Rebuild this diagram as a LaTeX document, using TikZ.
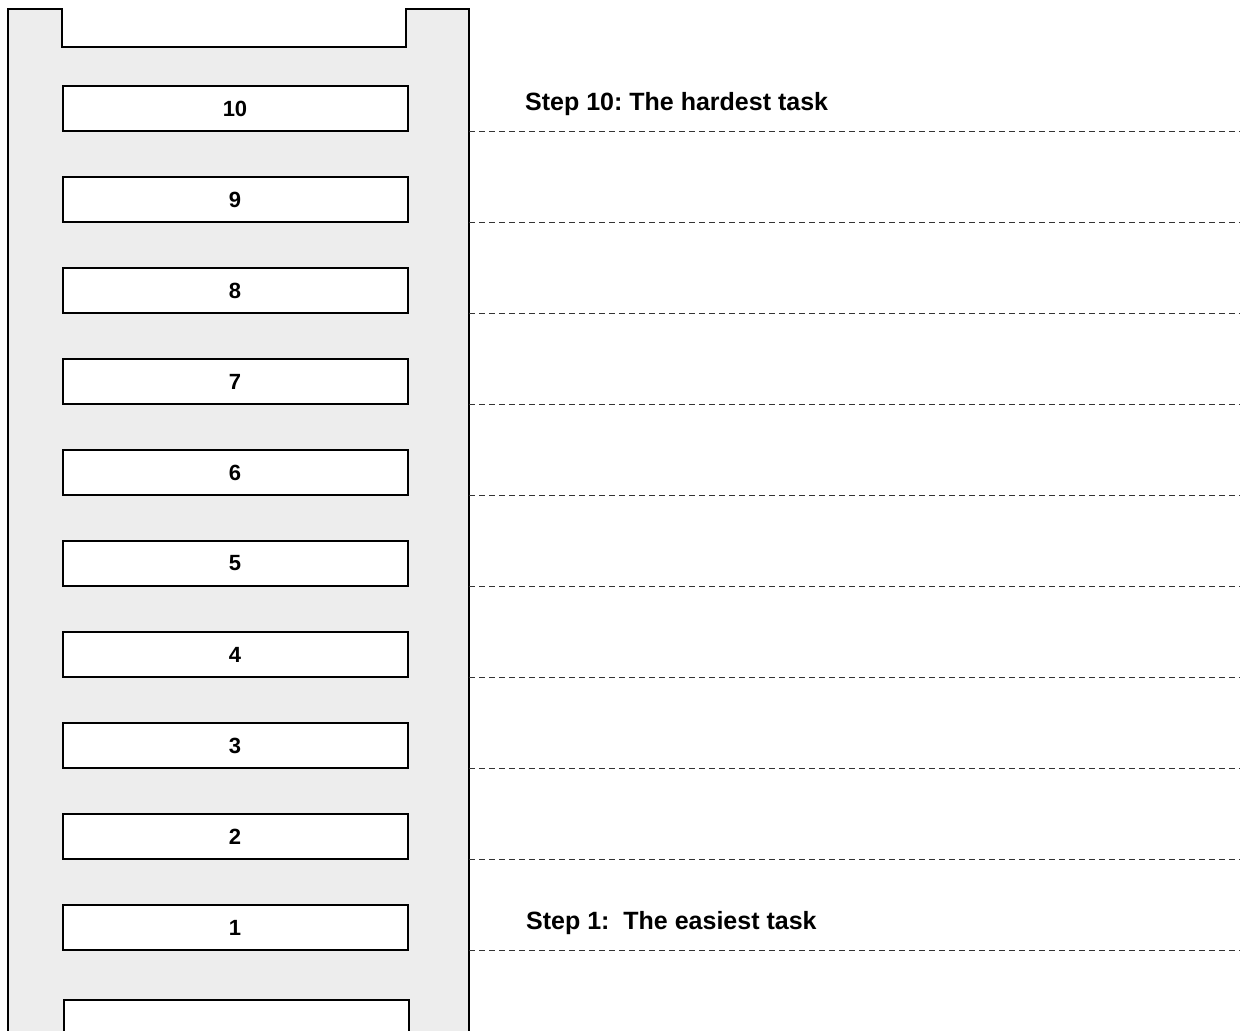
\documentclass[tikz,border=0pt]{standalone}
\usepackage{fontspec}
\setmainfont{Liberation Sans}
\frenchspacing
\begin{document}
\begin{tikzpicture}[x=1pt,y=-1pt,
  rail/.style={draw=black,line width=2pt,fill=black!7},
  rung/.style={draw=black,line width=2pt,fill=white,rectangle,minimum width=345pt,minimum height=45pt,inner sep=0pt,
    font=\bfseries\fontsize{22}{26}\selectfont},
  guide/.style={draw=black!80,line width=1pt,dash pattern=on 6pt off 4pt},
  steptext/.style={anchor=base west,inner sep=0pt,font=\bfseries\fontsize{25}{30}\selectfont}]
\useasboundingbox (0,0) rectangle (1240,1031);
\clip (0,0) rectangle (1240,1031);
\fill[white] (0,0) rectangle (1240,1031);
% ladder rails
\draw[rail] (8,9) -- (62,9) -- (62,47) -- (406,47) -- (406,9) -- (469,9) -- (469,1045) -- (8,1045) -- cycle;
% rungs
\foreach \k in {1,...,10}{
  \pgfmathsetmacro{\yc}{86+91*(10-\k)+22.5}
  \node[rung] (r\k) at (235,\yc) {\k};
  \coordinate (dl\k) at (469,\yc+22.5);
  \coordinate (dr\k) at (1240,\yc+22.5);
  \draw[guide] (dl\k) -- (dr\k);
}
% bottom rung (cut off)
\node[rung,minimum height=60pt,anchor=north] (r0) at (236,999) {};
% step labels
\node[steptext] (s10) at (525,110) {Step 10: The hardest task};
\node[steptext] (s1) at (526,929) {Step 1:~ The easiest task};
\end{tikzpicture}
\end{document}
